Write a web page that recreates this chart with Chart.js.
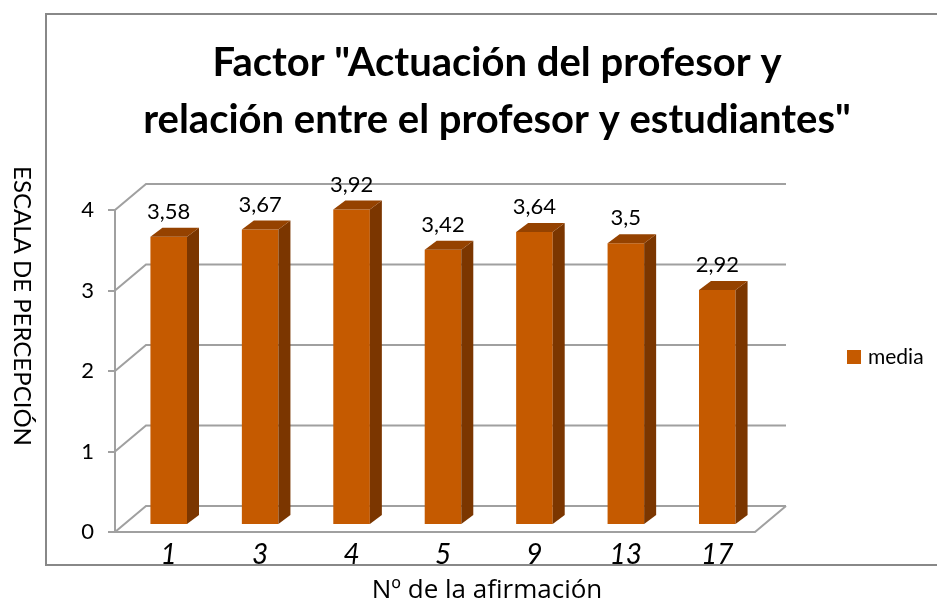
<!DOCTYPE html>
<html>
<head>
<meta charset="utf-8">
<script src="https://cdn.jsdelivr.net/npm/chart.js@4.4.0/dist/chart.umd.min.js"></script>
<style>
  html, body { margin: 0; padding: 0; background: #fff; }
  #wrap { width: 937px; height: 602px; }
</style>
</head>
<body>
<div id="wrap"><canvas id="chart" width="937" height="602"></canvas></div>
<script>
// --- Data ---
const afirmaciones = ['1', '3', '4', '5', '9', '13', '17'];
const medias = [3.58, 3.67, 3.92, 3.42, 3.64, 3.5, 2.92];
const yTicks = [0, 1, 2, 3, 4];
const seriesName = 'media';
const titleLines = ['Factor "Actuación del profesor y', 'relación entre el profesor y estudiantes"'];
const yTitle = 'ESCALA DE PERCEPCIÓN';
const xTitle = 'Nº de la afirmación';

// --- Look ---
const FONT = 'Lato, "Open Sans", sans-serif';
const orange = '#c55a00';
const orangeSide = '#7b3600';
const orangeTop = '#954200';
const gridGray = '#a0a0a0';
const WALL = { dx: 31, dy: -26 };      // depth of the back wall
const SHIFT = { dx: 8, dy: -7 };       // bars stand a bit inside the floor
const DEPTH = { dx: 12, dy: -9 };      // depth of each bar

function fmt(v) {
  return String(v).replace('.', ',');
}

// --- 3D frame, bar faces, labels, titles and legend ---
const frame3d = {
  id: 'frame3d',
  beforeDraw(chart) {
    const ctx = chart.ctx;
    ctx.save();
    ctx.fillStyle = '#fff';
    ctx.fillRect(0, 0, chart.width, chart.height);
    ctx.strokeStyle = '#888';
    ctx.lineWidth = 2;
    ctx.strokeRect(46, 14, 1000, 551);
    ctx.restore();
  },
  beforeDatasetsDraw(chart) {
    const { ctx, chartArea: a, scales: { y } } = chart;
    ctx.save();
    ctx.strokeStyle = gridGray;
    ctx.lineWidth = 2;
    yTicks.forEach(v => {
      const py = y.getPixelForValue(v);
      ctx.beginPath();
      ctx.moveTo(a.left, py);
      ctx.lineTo(a.left + WALL.dx, py + WALL.dy);
      ctx.lineTo(a.right + WALL.dx, py + WALL.dy);
      ctx.stroke();
    });
    // floor: front and right edges
    const p0 = y.getPixelForValue(0);
    ctx.beginPath();
    ctx.moveTo(a.left, p0);
    ctx.lineTo(a.right, p0);
    ctx.lineTo(a.right + WALL.dx, p0 + WALL.dy);
    ctx.stroke();
    ctx.restore();
  },
  beforeDatasetDraw(chart) {
    chart.ctx.save();
    chart.ctx.translate(SHIFT.dx, SHIFT.dy);
  },
  afterDatasetDraw(chart, args) {
    const ctx = chart.ctx;
    const meta = args.meta;
    meta.data.forEach(bar => {
      const { x, y, base, width } = bar.getProps(['x', 'y', 'base', 'width'], true);
      const l = x - width / 2, r = x + width / 2;
      // side face
      ctx.fillStyle = orangeSide;
      ctx.beginPath();
      ctx.moveTo(r, y);
      ctx.lineTo(r + DEPTH.dx, y + DEPTH.dy);
      ctx.lineTo(r + DEPTH.dx, base + DEPTH.dy);
      ctx.lineTo(r, base);
      ctx.closePath();
      ctx.fill();
      // top face
      ctx.fillStyle = orangeTop;
      ctx.beginPath();
      ctx.moveTo(l, y);
      ctx.lineTo(l + DEPTH.dx, y + DEPTH.dy);
      ctx.lineTo(r + DEPTH.dx, y + DEPTH.dy);
      ctx.lineTo(r, y);
      ctx.closePath();
      ctx.fill();
    });
    ctx.restore();

    // value labels
    ctx.save();
    ctx.fillStyle = '#000';
    ctx.font = '22px ' + FONT;
    ctx.textAlign = 'center';
    ctx.textBaseline = 'middle';
    meta.data.forEach((bar, i) => {
      const value = chart.data.datasets[args.index].data[i];
      ctx.fillText(fmt(value), bar.x + SHIFT.dx, bar.y + SHIFT.dy - 25);
    });
    ctx.restore();
  },
  afterDraw(chart) {
    const ctx = chart.ctx;

    // chart title
    ctx.save();
    ctx.fillStyle = '#000';
    ctx.font = 'bold 40px ' + FONT;
    ctx.textAlign = 'center';
    ctx.textBaseline = 'middle';
    titleLines.forEach((line, i) => ctx.fillText(line, 497, 63 + i * 57));
    ctx.restore();

    // y axis title, reading top to bottom
    ctx.save();
    ctx.fillStyle = '#000';
    ctx.font = '24px ' + FONT;
    ctx.textAlign = 'center';
    ctx.textBaseline = 'middle';
    ctx.translate(22, 306);
    ctx.rotate(Math.PI / 2);
    ctx.fillText(yTitle, 0, 0);
    ctx.restore();

    // x axis title
    ctx.save();
    ctx.fillStyle = '#000';
    ctx.font = '26px "Open Sans", sans-serif';
    ctx.textAlign = 'center';
    ctx.textBaseline = 'alphabetic';
    ctx.fillText(xTitle, 487, 598);

    // legend
    ctx.fillStyle = orange;
    ctx.fillRect(847, 350, 14, 14);
    ctx.fillStyle = '#000';
    ctx.font = '21px ' + FONT;
    ctx.textAlign = 'left';
    ctx.fillText(chart.data.datasets[0].label, 868, 364);
    ctx.restore();
  }
};

new Chart(document.getElementById('chart'), {
  type: 'bar',
  data: {
    labels: afirmaciones,
    datasets: [{
      label: seriesName,
      data: medias,
      backgroundColor: orange,
      borderWidth: 0,
      barPercentage: 0.4,
      categoryPercentage: 1,
      clip: false
    }]
  },
  options: {
    responsive: false,
    animation: false,
    layout: { padding: { left: 0, right: 182, top: 210, bottom: 0 } },
    plugins: {
      legend: { display: false },
      tooltip: { enabled: false },
      title: { display: false }
    },
    scales: {
      x: {
        type: 'category',
        offset: true,
        grid: { display: false, drawTicks: false },
        border: { display: false },
        ticks: {
          color: '#000',
          font: { family: FONT, size: 28, style: 'italic' },
          padding: 6,
          labelOffset: 8,
          maxRotation: 0,
          autoSkip: false
        },
        afterFit(scale) { scale.height = 70; }
      },
      y: {
        min: 0,
        max: 4,
        grid: { drawOnChartArea: false, tickLength: 7, color: gridGray, lineWidth: 2 },
        border: { color: gridGray, width: 2 },
        ticks: {
          stepSize: 1,
          color: '#000',
          padding: 14,
          font: { family: FONT, size: 22 }
        },
        afterFit(scale) { scale.width = 115; }
      }
    }
  },
  plugins: [frame3d]
});
</script>
</body>
</html>
